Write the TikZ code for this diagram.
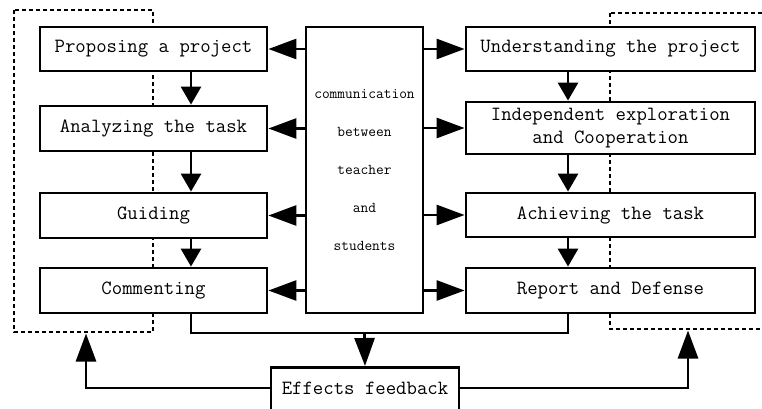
\documentclass[tikz,border=0pt]{standalone}
\usetikzlibrary{arrows.meta}
\begin{document}
\begin{tikzpicture}[x=1pt,y=-1pt,
  stepbox/.style={draw,line width=2.8pt,fill=white,inner sep=0pt,font=\ttfamily\fontsize{20.2}{24}\selectfont},
  conn/.style={line width=2.8pt},
  longarrow/.style={conn,-{Triangle[length=28pt,width=20pt]}},
  shortarrow/.style={conn,-{Triangle[length=18pt,width=20pt]}},
  loopline/.style={line width=2.8pt,dash pattern=on 4pt off 3pt}]
\useasboundingbox (0,0) rectangle (762,409);
\clip (0,0) rectangle (762,409);

% dotted loops around each column
\draw[loopline] (14,10) rectangle (153,332);
\draw[loopline] (610,13) rectangle (790,329);

% teacher column
\node[stepbox,minimum width=227pt,minimum height=44pt] (p1) at (153.5,49) {Proposing a project};
\node[stepbox,minimum width=227pt,minimum height=45pt] (p2) at (153.5,128.5) {Analyzing the task};
\node[stepbox,minimum width=227pt,minimum height=45pt] (p3) at (153.5,215.5) {Guiding};
\node[stepbox,minimum width=227pt,minimum height=45pt] (p4) at (153.5,290.5) {Commenting};

% student column
\node[stepbox,minimum width=289pt,minimum height=44pt] (s1) at (610.5,49) {Understanding the project};
\node[stepbox,minimum width=289pt,minimum height=52pt,align=center,font=\ttfamily\fontsize{20.2}{23}\selectfont] (s2) at (610.5,128) {Independent exploration\\and Cooperation};
\node[stepbox,minimum width=289pt,minimum height=44pt] (s3) at (610.5,215) {Achieving the task};
\node[stepbox,minimum width=289pt,minimum height=45pt] (s4) at (610.5,290.5) {Report and Defense};

% communication box
\node[stepbox,minimum width=117pt,minimum height=286pt,align=center,font=\ttfamily\fontsize{15}{38}\selectfont] (c) at (364.5,170) {communication\\between\\teacher\\and\\students};

% feedback box (continues below the page edge)
\node[stepbox,minimum width=188pt,minimum height=70pt,anchor=north] (e) at (365,366) {};
\node[font=\ttfamily\fontsize{20.2}{24}\selectfont] (et) at (365,388) {Effects feedback};

% vertical flow
\draw[shortarrow] (p1.south -| 191,0) -- (p2.north -| 191,0);
\draw[shortarrow] (p2.south -| 191,0) -- (p3.north -| 191,0);
\draw[shortarrow] (p3.south -| 191,0) -- (p4.north -| 191,0);
\draw[shortarrow] (s1.south -| 568,0) -- (s2.north -| 568,0);
\draw[shortarrow] (s2.south -| 568,0) -- (s3.north -| 568,0);
\draw[shortarrow] (s3.south -| 568,0) -- (s4.north -| 568,0);

% communication links
\foreach \n in {p1,p2,p3,p4} \draw[longarrow] (c.west |- \n.east) -- (\n.east);
\foreach \n in {s1,s2,s3,s4} \draw[longarrow] (c.east |- \n.west) -- (\n.west);

% collecting the results
\coordinate (j) at (364.5,333);
\draw[conn] (p4.south -| 191,0) |- (j) -| (s4.south -| 568,0);
\draw[longarrow] (j) -- (e.north);

% feedback to both loops
\draw[longarrow] (e.west |- 0,388) -| (86,333.5);
\draw[longarrow] (e.east |- 0,388) -| (688,330.5);
\end{tikzpicture}
\end{document}
